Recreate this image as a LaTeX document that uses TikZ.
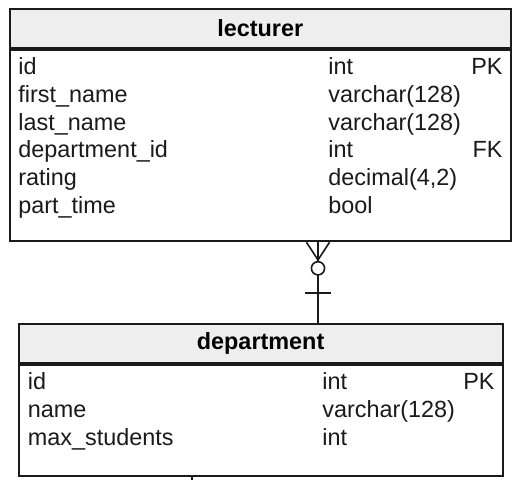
\documentclass[tikz,border=0pt]{standalone}
\usepackage{fontspec}
\setmainfont{Liberation Sans}
\usetikzlibrary{positioning, calc}
\definecolor{headgray}{HTML}{EEEEEE}
\definecolor{inkblack}{HTML}{1A1A1A}

\tikzset{
  tablehead/.style={draw=inkblack, fill=headgray, line width=1pt, anchor=north west, inner sep=0pt, font=\bfseries\fontsize{11.7}{14}\selectfont},
  tablebody/.style={draw=inkblack, fill=white, line width=1pt, anchor=north west, inner sep=0pt},
  field/.style={anchor=base west, inner sep=0pt, text=inkblack, font=\fontsize{11.7}{14}\selectfont},
  keyfield/.style={anchor=base east, inner sep=0pt, text=inkblack, font=\fontsize{11.7}{14}\selectfont},
  relline/.style={line width=0.8pt, inkblack}
}

\begin{document}
\begin{tikzpicture}[x=0.5pt, y=-0.5pt]
  \useasboundingbox (0,0) rectangle (521,480);

  % lecturer
  \node[tablehead, minimum width=250.75pt, minimum height=19.35pt] (lecturer) at (8.5,8) {lecturer};
  \node[tablebody, minimum width=250.75pt, minimum height=95.8pt] (lecturerbody) at (lecturer.south west) {};
  \node[field] (lid) at (18,75) {id};
  \node[field] (ltid) at (328,75) {int};
  \node[keyfield] (lpk) at (503,75) {PK};
  \node[field] (lfirst) at (18,102.7) {first\_name};
  \node[field] (ltfirst) at (328,102.7) {varchar(128)};
  \node[field] (llast) at (18,130.3) {last\_name};
  \node[field] (ltlast) at (328,130.3) {varchar(128)};
  \node[field] (ldep) at (18,158) {department\_id};
  \node[field] (ltdep) at (328,158) {int};
  \node[keyfield] (lfk) at (503,158) {FK};
  \node[field] (lrating) at (18,185.6) {rating};
  \node[field] (ltrating) at (328,185.6) {decimal(4,2)};
  \node[field] (lpart) at (18,213.3) {part\_time};
  \node[field] (ltpart) at (328,213.3) {bool};

  % department
  \node[tablehead, minimum width=242.1pt, minimum height=19.5pt] (department) at (17.5,323.3) {department};
  \node[tablebody, minimum width=242.1pt, minimum height=55.5pt] (departmentbody) at (department.south west) {};
  \node[field] (did) at (27.5,389.3) {id};
  \node[field] (dtid) at (322,389.3) {int};
  \node[keyfield] (dpk) at (495,389.3) {PK};
  \node[field] (dname) at (27.5,417.5) {name};
  \node[field] (dtname) at (322,417.5) {varchar(128)};
  \node[field] (dmax) at (27.5,446) {max\_students};
  \node[field] (dtmax) at (322,446) {int};

  % relation: many lecturers, one department
  \coordinate (relx) at (318,0);
  \coordinate (crow) at (318,260);
  \coordinate (onebar) at (318,293.3);
  \draw[relline] (lecturerbody.south -| relx) -- (department.north -| relx);
  \draw[relline] ($(lecturerbody.south -| relx)+(-11.5,0)$) -- (crow) -- ($(lecturerbody.south -| relx)+(11.5,0)$);
  \draw[relline, fill=white] (318,268.3) circle[radius=3.3pt];
  \draw[relline] ($(onebar)+(-13,0)$) -- ($(onebar)+(13,0)$);

  % stub below department
  \coordinate (stub) at (191.7,484);
  \draw[relline] (departmentbody.south -| stub) -- (stub);
\end{tikzpicture}
\end{document}
